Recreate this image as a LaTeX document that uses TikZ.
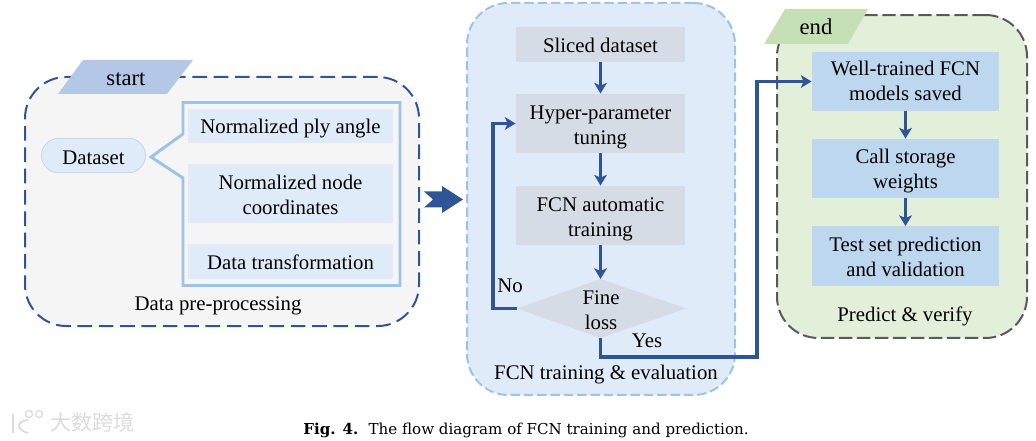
\documentclass[tikz,border=0pt]{standalone}
\usepackage{fontspec}
\setmainfont{Liberation Serif}
\newfontfamily\capfont{DejaVu Serif}
\newfontfamily\cjkfont{Noto Sans CJK SC}
\usetikzlibrary{arrows.meta}
\definecolor{flowblue}{HTML}{2F5597}
\definecolor{lineblue}{HTML}{9DC3E6}
\definecolor{paleblue}{HTML}{DFEBF9}
\definecolor{midblue}{HTML}{BDD7EE}
\definecolor{slategrey}{HTML}{D6DCE5}
\definecolor{palegreen}{HTML}{E2F0D9}
\definecolor{tabblue}{HTML}{B4C7E7}
\definecolor{tabgreen}{HTML}{C5E0B4}
\begin{document}
\begin{tikzpicture}
[   x=0.75pt,y=-0.75pt,
    panel/.style={draw=#1,line width=1.5pt,rounded corners=31pt,inner sep=0pt},
    tlabel/.style={inner sep=0pt,align=center,font=\fontsize{15.6}{18.7}\selectfont},
    tbox/.style={fill=#1,inner sep=0pt},
    txt/.style 2 args={label={[tlabel,yshift=#1]center:#2}},
    flow/.style={draw=flowblue,line width=2.5pt,-{Stealth[length=8pt,width=9.5pt,inset=2pt]}},
]
    \useasboundingbox (0,0) rectangle (1036,441);
    % three panels
    \node[panel=flowblue,dash pattern=on 11pt off 5pt,fill=black!4,minimum width=295.5pt,minimum height=186.8pt] (prep) at (222,201.5) {};
    \node[panel=lineblue,dash pattern=on 7pt off 3pt,fill=paleblue,minimum width=201pt,minimum height=294pt] (train) at (601,199) {};
    \node[panel=black!65,dash pattern=on 10pt off 3.5pt,fill=palegreen,minimum width=187.5pt,minimum height=242.2pt] (pred) at (902,176.5) {};

    % tabs
    \fill[tabblue] (83,60) -- (193,60) -- (167,94) -- (58,94) -- cycle;
    \node[tlabel,font=\fontsize{17}{18}\selectfont] (start) at (126,79) {start};
    \fill[tabgreen] (785,9) -- (868,9) -- (848,44) -- (764,44) -- cycle;
    \node[tlabel,font=\fontsize{17}{18}\selectfont] (end) at (816,27) {end};

    % left panel
    \node[tbox=paleblue,draw=midblue,line width=0.6pt,rounded corners=13pt,minimum width=78pt,minimum height=26pt,txt={-1.5pt}{Dataset}] (data) at (93.5,155.5) {};
    \draw[lineblue,line width=2.2pt,line join=miter] (183,102.5) -- (400,102.5) -- (400,285.5) -- (183,285.5) -- (183,178) -- (151,157) -- (183,134) -- cycle;
    \foreach \y/\h/\s/\n/\t in {126/25.5/-2.2pt/a/Normalized ply angle,193.5/44.5/-0.8pt/b/{Normalized node\\coordinates},261.5/26/-0.8pt/c/Data transformation}
    {
        \node[tbox=paleblue,minimum width=154pt,minimum height=\h pt,txt={\s}{\t}] (prep-\n) at (290.5,\y) {};
    }
    \node[tlabel] (preplabel) at (218,306) {Data pre-processing};

    % arrow between the panels
    \fill[flowblue] (424,191.5) -- (442,191.5) -- (442,186) -- (463,199.5) -- (442,213) -- (442,207.5) -- (424,207.5) -- (433,199.5) -- cycle;

    % middle panel
    \node[tbox=slategrey,minimum width=127pt,minimum height=26pt,txt={-0.8pt}{Sliced dataset}] (m-1) at (600.5,44.5) {};
    \node[tbox=slategrey,minimum width=127pt,minimum height=44.5pt,txt={-3pt}{Hyper-parameter\\tuning}] (m-2) at (600.5,123.5) {};
    \node[tbox=slategrey,minimum width=127pt,minimum height=44.5pt,txt={-2.6pt}{FCN automatic\\training}] (m-3) at (600.5,215.5) {};
    \coordinate (dtop) at (600.5,279);
    \coordinate (dleft) at (517,308.5);
    \coordinate (dbot) at (600.5,338);
    \fill[slategrey] (dtop) -- (686,308.5) -- (dbot) -- (dleft) -- cycle;
    \node[tlabel] (fine) at (601,310) {Fine\\loss};
    \draw[flow] (m-1) -- (m-2);
    \draw[flow] (m-2) -- (m-3);
    \draw[flow] (m-3) -- (dtop);
    \draw[flow] (dleft) -- (493,308.5) |- (m-2.west);
    \node[tlabel] (no) at (510,286) {No};
    \node[tlabel] (yes) at (647,341) {Yes};
    \node[tlabel] (trainlabel) at (606,375) {FCN training \& evaluation};

    % right panel
    \foreach \k/\y/\s/\t in {1/81.5/0.2pt/{Well-trained FCN\\models saved},2/168.5/-2.2pt/{Call storage\\weights},3/256/-0.8pt/{Test set prediction\\and validation}}
    {
        \node[tbox=midblue,minimum width=140.5pt,minimum height=44.5pt,txt={\s}{\t}] (r-\k) at (905.5,\y) {};
    }
    \draw[flow] (r-1) -- (r-2);
    \draw[flow] (r-2) -- (r-3);
    \draw[flow] (dbot) -- (600.5,357) -- (757,357) |- (r-1.west);
    \node[tlabel] (predlabel) at (905,316) {Predict \& verify};

    % caption and mark
    \node[inner sep=0pt,font=\capfont\fontsize{11.3}{13}\selectfont] (caption) at (526,430) {\textbf{Fig. 4.}\hspace{3pt} The flow diagram of FCN training and prediction.};
    \draw[black!14,line width=1.4pt] (13,414) -- (13,433) (28,420) .. controls (16,421) and (16,430) .. (28,433);
    \draw[black!14,line width=1pt] (29,414) circle (3.5) (39,414) circle (3.5);
    \node[inner sep=0pt,text=black!14,font=\cjkfont\fontsize{15.8}{16}\selectfont] (mark) at (92.5,422) {大数跨境};
\end{tikzpicture}
\end{document}
